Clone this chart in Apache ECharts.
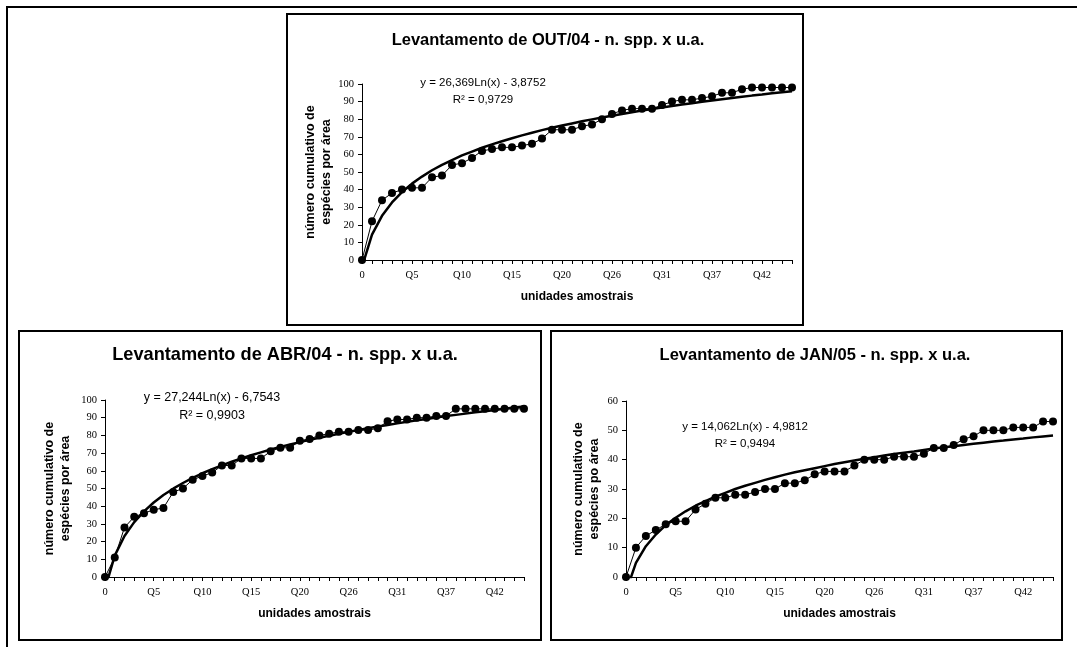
<!DOCTYPE html>
<html>
<head>
<meta charset="utf-8">
<script src="https://cdn.jsdelivr.net/npm/echarts@6/dist/echarts.min.js"></script>
<style>
html,body{margin:0;padding:0;background:#fff;}
#c{width:1077px;height:647px;}
</style>
</head>
<body>
<div id="c"></div>
<script>
// Category labels (sample units)
var categories = ["0","Q1","Q2","Q3","Q4","Q5","Q6","Q7","Q8","Q9","Q10","Q11","Q12","Q13","Q14","Q15","Q16","Q17","Q18","Q19","Q20","Q22","Q23","Q24","Q25","Q26","Q27","Q28","Q29","Q30","Q31","Q33","Q34","Q35","Q36","Q37","Q38","Q39","Q40","Q41","Q42","Q43","Q44","Q45"];

// OUT/04 cumulative species
var out04 = [0,22,34,38,40,41,41,47,48,54,55,58,62,63,64,64,65,66,69,74,74,74,76,77,80,83,85,86,86,86,88,90,91,91,92,93,95,95,97,98,98,98,98,98];
var out04Trend = [-3.9,14.4,25.1,32.7,38.6,43.4,47.4,51.0,54.1,56.8,59.4,61.6,63.8,65.7,67.5,69.2,70.8,72.3,73.8,75.1,76.4,77.6,78.8,79.9,81.0,82.0,83.0,84.0,84.9,85.8,86.7,87.5,88.3,89.1,89.9,90.6,91.3,92.0,92.7,93.4,94.0,94.7,95.3,95.9];

// ABR/04 cumulative species
var abr04 = [0,11,28,34,36,38,39,48,50,55,57,59,63,63,67,67,67,71,73,73,77,78,80,81,82,82,83,83,84,88,89,89,90,90,91,91,95,95,95,95,95,95,95,95];
var abr04Trend = [-6.8,12.1,23.2,31.0,37.1,42.1,46.3,49.9,53.1,56.0,58.6,60.9,63.1,65.1,67.0,68.8,70.4,72.0,73.5,74.9,76.2,77.5,78.7,79.8,80.9,82.0,83.0,84.0,85.0,85.9,86.8,87.7,88.5,89.3,90.1,90.9,91.6,92.3,93.1,93.7,94.4,95.1,95.7,96.3];

// JAN/05 cumulative species
var jan05 = [0,10,14,16,18,19,19,23,25,27,27,28,28,29,30,30,32,32,33,35,36,36,36,38,40,40,40,41,41,41,42,44,44,45,47,48,50,50,50,51,51,51,53,53];
var jan05Trend = [-5.0,4.8,10.5,14.5,17.7,20.2,22.4,24.3,25.9,27.4,28.7,30.0,31.1,32.1,33.1,34.0,34.9,35.7,36.4,37.1,37.8,38.5,39.1,39.7,40.3,40.8,41.4,41.9,42.4,42.8,43.3,43.8,44.2,44.6,45.0,45.4,45.8,46.2,46.5,46.9,47.2,47.6,47.9,48.2];

var titles = ["Levantamento de OUT/04 - n. spp. x u.a.","Levantamento de ABR/04 - n. spp. x u.a.","Levantamento de JAN/05 - n. spp. x u.a."];
var equations = ["y = 26,369Ln(x) - 3,8752","y = 27,244Ln(x) - 6,7543","y = 14,062Ln(x) - 4,9812"];
var r2Labels = ["R\u00B2 = 0,9729","R\u00B2 = 0,9903","R\u00B2 = 0,9494"];
var yNames = ["número cumulativo de\nespécies por área","número cumulativo de\nespécies por área","número cumulativo de\nespécies po área"];
var xName = "unidades amostrais";
var yMax = [100,100,60];

var panels = [
  {grid:{left:362,top:84,width:430,height:176}, title:[548,40,16.5], eq:[483,83,100,11.5], box:[287,14,516,311], yGap:25},
  {grid:{left:105,top:400,width:419,height:177}, title:[285,355,18.2], eq:[212,398,416,12.5], box:[19,331,522,309], yGap:31},
  {grid:{left:626,top:401,width:427,height:176}, title:[815,355,16.5], eq:[745,427,444,11.5], box:[551,331,511,309], yGap:23}
];

var chart = echarts.init(document.getElementById('c'), null, {renderer:'canvas'});
var grids=[], xAxes=[], yAxes=[], series=[], graphics=[];
var sansF = "'Liberation Sans', Arial, sans-serif";
var serifF = "'Liberation Serif', 'Times New Roman', serif";
var dataSets = [out04, abr04, jan05];
var trendSets = [out04Trend, abr04Trend, jan05Trend];

// outer frame
graphics.push({type:'polyline', shape:{points:[[7,647],[7,7],[1077,7]]}, style:{stroke:'#000', lineWidth:2, fill:null}, silent:true});

panels.forEach(function(p, i){
  grids.push(p.grid);
  xAxes.push({
    type:'category', gridIndex:i, data:categories, boundaryGap:false,
    axisLine:{lineStyle:{color:'#000', width:1}},
    axisTick:{interval:0, length:4, lineStyle:{color:'#000'}},
    axisLabel:{interval:4, color:'#000', fontFamily:serifF, fontSize:10.5, margin:10},
    splitLine:{show:false},
    name:xName, nameLocation:'middle', nameGap:31,
    nameTextStyle:{fontFamily:sansF, fontWeight:'bold', fontSize:12, color:'#000'}
  });
  yAxes.push({
    type:'value', gridIndex:i, min:0, max:yMax[i], interval:10,
    axisLine:{show:true, lineStyle:{color:'#000', width:1}},
    axisTick:{show:true, length:4, lineStyle:{color:'#000'}},
    axisLabel:{color:'#000', fontFamily:serifF, fontSize:10.5, margin:8},
    splitLine:{show:false},
    name:yNames[i], nameLocation:'middle', nameRotate:90, nameGap:p.yGap,
    nameTextStyle:{fontFamily:sansF, fontWeight:'bold', fontSize:12.5, color:'#000', lineHeight:16, align:'center'}
  });
  series.push({
    type:'line', xAxisIndex:i, yAxisIndex:i, data:trendSets[i],
    showSymbol:false, symbol:'none', clip:true,
    lineStyle:{color:'#000', width:2.5}, z:2
  });
  series.push({
    type:'line', xAxisIndex:i, yAxisIndex:i, data:dataSets[i],
    symbol:'circle', symbolSize:8, showSymbol:true, showAllSymbol:true, clip:false,
    lineStyle:{color:'#000', width:1}, itemStyle:{color:'#000'}, z:3
  });
  graphics.push({type:'rect', shape:{x:p.box[0], y:p.box[1], width:p.box[2], height:p.box[3]}, style:{stroke:'#000', lineWidth:2, fill:null}, silent:true});
  graphics.push({type:'text', x:p.title[0], y:p.title[1], style:{text:titles[i], font:'bold '+p.title[2]+'px '+sansF, fill:'#000', textAlign:'center', textVerticalAlign:'middle'}, silent:true});
  graphics.push({type:'text', x:p.eq[0], y:p.eq[1], style:{text:equations[i], font:p.eq[3]+'px '+sansF, fill:'#000', textAlign:'center', textVerticalAlign:'middle'}, silent:true, z:10});
  graphics.push({type:'text', x:p.eq[0], y:p.eq[2], style:{text:r2Labels[i], font:p.eq[3]+'px '+sansF, fill:'#000', textAlign:'center', textVerticalAlign:'middle'}, silent:true, z:10});
});

chart.setOption({
  animation:false,
  backgroundColor:'#fff',
  grid:grids, xAxis:xAxes, yAxis:yAxes, series:series,
  graphic:graphics
});
</script>
</body>
</html>
